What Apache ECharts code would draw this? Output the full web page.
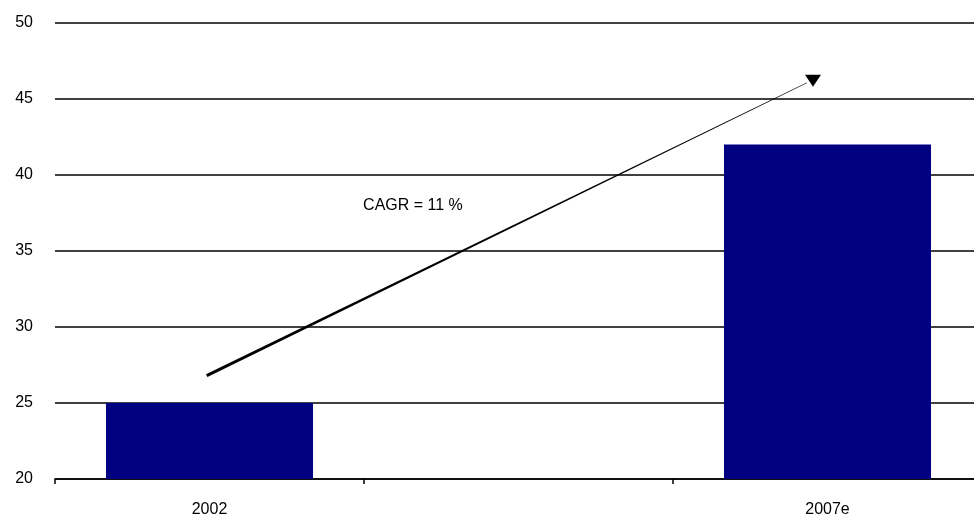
<!DOCTYPE html>
<html>
<head>
<meta charset="utf-8">
<script src="https://cdn.jsdelivr.net/npm/echarts@6/dist/echarts.min.js"></script>
<style>
html,body{margin:0;padding:0;background:#fff;overflow:hidden;}
#chart{width:974px;height:517px;}
</style>
</head>
<body>
<div id="chart"></div>
<script>
const categories = ['2002', '', '2007e'];
const values = [25, null, 42];
const yMin = 20, yMax = 50, yStep = 5;
// Trend arrow in data units (x: band position 0..3, y: value)
const arrowFrom = [0.491, 26.8];
const arrowTo = [2.453, 45.8];
const cagrText = 'CAGR = 11 %';
const cagrAt = [0.997, 38.0];

const chart = echarts.init(document.getElementById('chart'), null, {renderer: 'canvas'});
const font = '"Liberation Sans", Arial, sans-serif';

chart.setOption({
  animation: false,
  grid: {left: 55, width: 927, top: 23, bottom: 38, containLabel: false, outerBoundsMode: 'none'},
  xAxis: [{
    type: 'category',
    data: categories,
    axisLine: {lineStyle: {color: '#000', width: 1.5}},
    axisTick: {show: true, length: 5, lineStyle: {color: '#000', width: 1.5}},
    axisLabel: {color: '#000', fontFamily: font, fontSize: 16, margin: 23}
  }, {
    type: 'value', min: 0, max: 3, show: false
  }],
  yAxis: {
    type: 'value', min: yMin, max: yMax, interval: yStep,
    axisLine: {show: false}, axisTick: {show: false},
    splitLine: {lineStyle: {color: '#000', width: 1.5}},
    axisLabel: {color: '#000', fontFamily: font, fontSize: 16, margin: 22}
  },
  series: [{
    type: 'bar',
    data: values,
    barCategoryGap: '33%',
    itemStyle: {color: '#000080'}
  }, {
    type: 'custom',
    xAxisIndex: 1,
    yAxisIndex: 0,
    clip: false,
    data: [[arrowFrom[0], arrowFrom[1], arrowTo[0], arrowTo[1]]],
    renderItem: function (params, api) {
      const p0 = api.coord([api.value(0), api.value(1)]);
      const tip = api.coord([api.value(2), api.value(3)]);
      const headH = 12, headW = 16;
      const p1 = [tip[0] - 6, tip[1] - 4];
      const dx = p1[0] - p0[0], dy = p1[1] - p0[1];
      const len = Math.sqrt(dx * dx + dy * dy);
      const nx = -dy / len, ny = dx / len;
      const w0 = 1.6, w1 = 0.3;
      const lab = api.coord(cagrAt);
      return {
        type: 'group',
        children: [{
          type: 'polygon',
          shape: {points: [
            [p0[0] + nx * w0, p0[1] + ny * w0],
            [p1[0] + nx * w1, p1[1] + ny * w1],
            [p1[0] - nx * w1, p1[1] - ny * w1],
            [p0[0] - nx * w0, p0[1] - ny * w0]
          ]},
          style: {fill: '#000'}
        }, {
          type: 'polygon',
          shape: {points: [
            [tip[0], tip[1]],
            [tip[0] - headW / 2, tip[1] - headH],
            [tip[0] + headW / 2, tip[1] - headH]
          ]},
          style: {fill: '#000'}
        }, {
          type: 'text',
          x: lab[0], y: lab[1],
          style: {text: cagrText, fill: '#000', font: '16px ' + font, textAlign: 'left', textVerticalAlign: 'middle'}
        }]
      };
    }
  }]
});
</script>
</body>
</html>
